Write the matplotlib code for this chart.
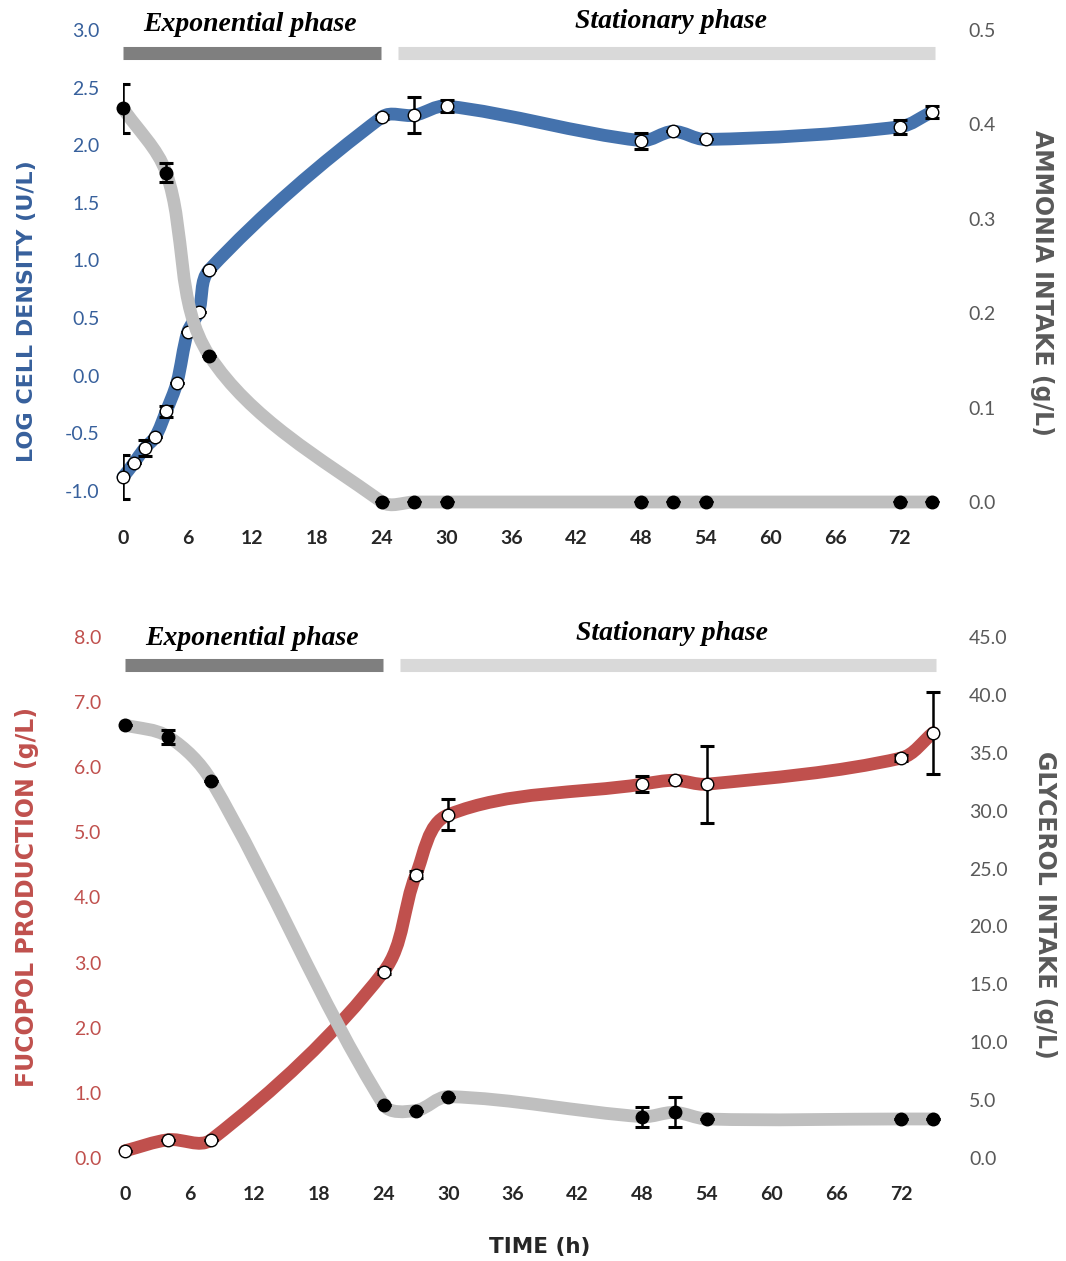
import numpy as np
import matplotlib.pyplot as plt
from matplotlib.path import Path
from matplotlib.patches import PathPatch
import matplotlib.transforms as mtransforms

# sampling times (h)
time_h = [0, 1, 2, 3, 4, 5, 6, 7, 8, 24, 27, 30, 48, 51, 54, 72, 75]
time_sub = [0, 4, 8, 24, 27, 30, 48, 51, 54, 72, 75]

# top panel: growth and ammonia
log_cell = [-0.88, -0.76, -0.63, -0.53, -0.31, -0.06, 0.38, 0.55, 0.92,
            2.245, 2.26, 2.34, 2.04, 2.12, 2.05, 2.16, 2.29]
log_cell_err = [0.19, 0, 0.07, 0, 0.05, 0, 0, 0, 0,
                0.02, 0.156, 0.05, 0.07, 0, 0, 0.06, 0.05]
ammonia = [0.417, 0.349, 0.155, 0.0, 0.0, 0.0, 0.0, 0.0, 0.0, 0.0, 0.0]
ammonia_err = [0.026, 0.01, 0, 0, 0, 0, 0, 0, 0, 0, 0]

# bottom panel: FucoPol and glycerol
fucopol = [0.11, 0.28, 0.28, 2.86, 4.35, 5.27, 5.74, 5.80, 5.74, 6.14, 6.53]
fucopol_err = [0, 0, 0, 0.04, 0.05, 0.24, 0.12, 0, 0.59, 0.05, 0.63]
glycerol = [37.4, 36.4, 32.6, 4.6, 4.1, 5.3, 3.57, 3.94, 3.37, 3.37, 3.37]
glycerol_err = [0, 0.6, 0, 0, 0, 0, 0.86, 1.3, 0, 0, 0]

phases = [('Exponential phase', 0, 23.9, '#7f7f7f'),
          ('Stationary phase', 25.5, 75.3, '#d9d9d9')]
phase_text_x = [11.8, 50.8]

x_ticks = [0, 6, 12, 18, 24, 30, 36, 42, 48, 54, 60, 66, 72]

BLUE = '#4472ad'
BLUE_TXT = '#37609c'
RED = '#c0504d'
GREY = '#bfbfbf'
GREY_TXT = '#595959'

plt.rcParams['font.family'] = ['Lato', 'DejaVu Sans']


def smooth_path(ax, x, y, k=1 / 3):
    # smoothed line in screen space: tangent from the neighbours,
    # control arm scaled by the length of the segment itself
    pts = ax.transData.transform(np.column_stack([x, y]).astype(float))
    verts = [pts[0]]
    codes = [Path.MOVETO]
    n = len(pts)
    for i in range(n - 1):
        p0 = pts[i - 1] if i > 0 else pts[i]
        p1 = pts[i]
        p2 = pts[i + 1]
        p3 = pts[i + 2] if i + 2 < n else pts[i + 1]
        seg = np.hypot(*(p2 - p1))
        d1 = p2 - p0
        d2 = p3 - p1
        c1 = p1 + d1 / np.hypot(*d1) * seg * k
        c2 = p2 - d2 / np.hypot(*d2) * seg * k
        verts += [c1, c2, p2]
        codes += [Path.CURVE4] * 3
    verts = ax.transData.inverted().transform(np.array(verts))
    return Path(verts, codes)


def draw_series(ax, x, y, err, color, face):
    ax.add_patch(PathPatch(smooth_path(ax, x, y), fill=False, edgecolor=color,
                           lw=9.2, capstyle='round', joinstyle='round',
                           clip_on=False, zorder=2))
    ax.errorbar(x, y, yerr=err, fmt='none', ecolor='black', elinewidth=1.8,
                capsize=5, capthick=2.2, zorder=3)
    ax.plot(x, y, 'o', ms=9, mfc=face, mec='black', mew=1.0,
            clip_on=False, zorder=4)


def style_axes(ax, axr, ylim, yticks, ylim_r, yticks_r, lcol, rcol):
    ax.set_xlim(0, 76)
    ax.set_ylim(*ylim)
    axr.set_ylim(*ylim_r)
    ax.set_xticks(x_ticks)
    ax.set_yticks(yticks)
    axr.set_yticks(yticks_r)
    ax.set_yticklabels(['%.1f' % v for v in yticks], color=lcol, fontsize=14)
    axr.set_yticklabels(['%.1f' % v for v in yticks_r], color=rcol, fontsize=14)
    ax.set_xticklabels([str(v) for v in x_ticks], fontsize=14,
                       fontweight='bold', color='#262626')
    ax.tick_params(axis='y', length=0, pad=17)
    axr.tick_params(axis='y', length=0, pad=18)
    ax.tick_params(axis='x', length=0, pad=20)
    for a in (ax, axr):
        for s in a.spines.values():
            s.set_visible(False)
    ax.patch.set_visible(False)


def draw_phases(ax, bar_y, text_y):
    trans = mtransforms.blended_transform_factory(ax.transData, ax.transAxes)
    for (name, t0, t1, col), tx, ty in zip(phases, phase_text_x, text_y):
        ax.plot([t0, t1], [bar_y, bar_y], color=col, lw=9.4,
                solid_capstyle='butt', clip_on=False, zorder=1)
        ax.text(tx, ty, name, transform=trans, ha='center', va='center',
                family='Liberation Serif', fontweight='bold',
                fontstyle='italic', fontsize=20, color='black')


def axis_title(ax, x, y, text, color, rot, size=17):
    ax.text(x, y, text, transform=ax.transAxes, rotation=rot,
            ha='center', va='center', fontsize=size, fontweight='bold',
            family='DejaVu Sans', color=color)


fig = plt.figure(figsize=(10.66, 12.61), dpi=100)

# ---- top panel
ax1 = fig.add_axes([123 / 1066, 1 - 502 / 1261, 820 / 1066, 472 / 1261])
ax1r = ax1.twinx()
style_axes(ax1, ax1r, (-1.096, 3.0), np.arange(-1.0, 3.01, 0.5),
           (0, 0.5), np.arange(0, 0.51, 0.1), BLUE_TXT, GREY_TXT)
draw_series(ax1, time_h, log_cell, log_cell_err, BLUE, 'white')
draw_series(ax1r, time_sub, ammonia, ammonia_err, GREY, 'black')
draw_phases(ax1, 2.80, [1.012, 1.018])
axis_title(ax1, -0.117, 0.405, 'LOG CELL DENSITY (U/L)', BLUE_TXT, 90, 16)
axis_title(ax1r, 1.121, 0.464, 'AMMONIA INTAKE (g/L)', GREY_TXT, -90)

# ---- bottom panel
ax2 = fig.add_axes([125 / 1066, 1 - 1158 / 1261, 819 / 1066, 521 / 1261])
ax2r = ax2.twinx()
style_axes(ax2, ax2r, (0, 8.0), np.arange(0, 8.01, 1.0),
           (0, 45.0), np.arange(0, 45.01, 5.0), RED, GREY_TXT)
draw_series(ax2, time_sub, fucopol, fucopol_err, RED, 'white')
draw_series(ax2r, time_sub, glycerol, glycerol_err, GREY, 'black')
draw_phases(ax2, 7.57, [0.998, 1.006])
axis_title(ax2, -0.120, 0.501, 'FUCOPOL PRODUCTION (g/L)', RED, 90)
axis_title(ax2r, 1.123, 0.486, 'GLYCEROL INTAKE (g/L)', GREY_TXT, -90)

fig.text(540 / 1066, 1 - 1247 / 1261, 'TIME (h)', ha='center', va='center',
         fontsize=15.5, fontweight='bold', family='DejaVu Sans',
         color='#262626')

plt.savefig('out.png', dpi=100)
plt.close(fig)
